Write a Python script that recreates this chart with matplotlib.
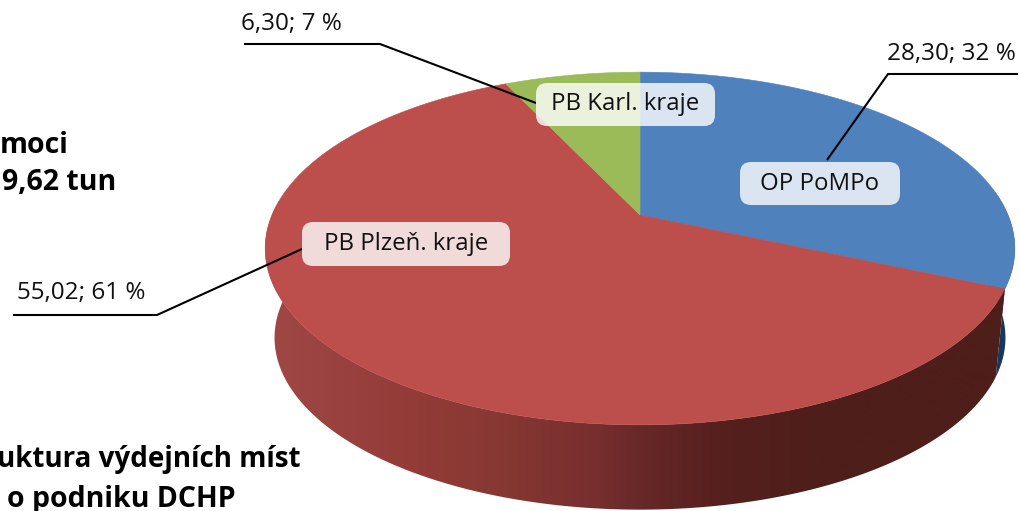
#!/usr/bin/env python3
"""3D-look pie chart of dispensing points, drawn in pixel coordinates."""

import numpy as np
import matplotlib
matplotlib.use('Agg')
import matplotlib.pyplot as plt
from matplotlib.colors import LinearSegmentedColormap
from matplotlib.patches import FancyBboxPatch, Polygon

# Data, clockwise from 12 o'clock
categories = ['OP PoMPo', 'PB Plzeň. kraje', 'PB Karl. kraje']
values = [28.30, 55.02, 6.30]
value_labels = ['28,30; 32 %', '55,02; 61 %', '6,30; 7 %']

colors = ['#4f81bd', '#bc4e4c', '#9bbb59']
side_blue = '#17375e'

# Ellipse geometry: projected circle, apex is not at the ellipse centre
CX, CY = 640, 215
RX, RY = 368, 170
PERSP = 0.19
DEPTH = 90
BOTTOM_SCALE = 0.975

plt.rcParams['font.family'] = ['Open Sans', 'DejaVu Sans']


def rim(a0, a1, dy=0.0, scale=1.0, n=200):
    """Rim points between two clockwise angles (degrees from the top)."""
    t = np.radians(np.linspace(a0, a1, n))
    u, v = np.sin(t), np.cos(t)
    w = 1 + PERSP * v
    return np.column_stack([CX + scale * RX * u / w, CY + dy - scale * RY * v / w])


fig = plt.figure(figsize=(10.21, 5.11), dpi=100)
ax = fig.add_axes([0, 0, 1, 1])

edges = np.concatenate([[0], np.cumsum(values)]) / sum(values) * 360

# Sides: blue sliver first, then the red wall with its gradient
blue_end = edges[1]
sliver = np.vstack([rim(82, blue_end), rim(82, blue_end, DEPTH, BOTTOM_SCALE)[::-1]])
ax.add_patch(Polygon(sliver, closed=True, fc=side_blue, ec='none'))

stops = [(265, (160, 72, 70)), (400, (148, 60, 56)), (500, (135, 56, 50)),
         (600, (118, 46, 46)), (640, (104, 40, 40)), (720, (85, 32, 30)),
         (820, (78, 30, 26)), (1015, (78, 30, 26))]
cmap = LinearSegmentedColormap.from_list(
    'wall', [((x - 265) / 750, tuple(c / 255 for c in rgb)) for x, rgb in stops])
im = ax.imshow(np.linspace(0, 1, 750).reshape(1, -1), cmap=cmap, aspect='auto',
               extent=(265, 1015, 520, 200), zorder=1)
wall = np.vstack([rim(blue_end, 275), rim(blue_end, 275, DEPTH, BOTTOM_SCALE)[::-1]])
wall_patch = Polygon(wall, closed=True, fc='none', ec='none', transform=ax.transData)
ax.add_patch(wall_patch)
im.set_clip_path(wall_patch)

# Top face
for i, color in enumerate(colors):
    pts = np.vstack([[CX, CY], rim(edges[i], edges[i + 1])])
    ax.add_patch(Polygon(pts, closed=True, fc=color, ec=color, lw=0.4, zorder=2))

# Leader lines and value labels
leaders = [
    ([1018, 888, 827], [74, 74, 160], (951, 54)),
    ([13, 157, 302], [315, 315, 249], (81, 293)),
    ([244, 380, 536], [44, 44, 103], (291, 24)),
]
for (xs, ys, (tx, ty)), label in zip(leaders, value_labels):
    ax.plot(xs, ys, color='black', lw=1.5, zorder=3, solid_capstyle='butt')
    ax.text(tx, ty, label, fontsize=17.5, ha='center', va='center', color='#111111', zorder=5)

# Category boxes
boxes = [(740, 162, 160, 43), (302, 222, 208, 44), (536, 83, 179, 43)]
for (x, y, w, h), label in zip(boxes, categories):
    ax.add_patch(FancyBboxPatch((x + 11, y + 11), w - 22, h - 22,
                                boxstyle='round,pad=11,rounding_size=11',
                                fc='white', ec='none', alpha=0.8, zorder=4))
    ax.text(x + w / 2, y + h / 2, label, fontsize=17.3, ha='center', va='center',
            color='#111111', zorder=5)

# Cut-off page text around the chart
for x, y, s, size in [(69, 153, 'moci', 20.5), (116, 190, '9,62 tun', 20.5),
                      (300, 467, 'uktura výdejních míst', 20), (236, 507, 'o podniku DCHP', 20.5)]:
    ax.text(x, y, s, fontsize=size, fontweight='bold', ha='right', va='baseline', color='black')

ax.set_xlim(0, 1021)
ax.set_ylim(511, 0)
ax.axis('off')

fig.savefig('out.png', dpi=100)
